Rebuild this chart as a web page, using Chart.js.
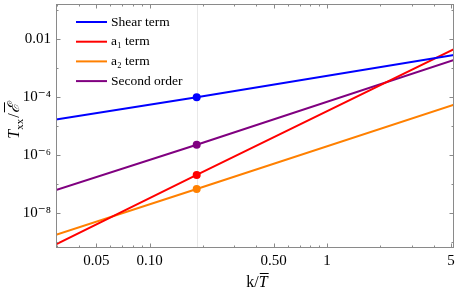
<!DOCTYPE html>
<html>
<head>
<meta charset="utf-8">
<script src="https://cdn.jsdelivr.net/npm/chart.js@4.4.1/dist/chart.umd.min.js"></script>
<style>
  html, body { margin: 0; padding: 0; background: #fff; }
  #wrap { width: 457px; height: 293px; position: relative; }
</style>
</head>
<body>
<div id="wrap"><canvas id="grafico"></canvas></div>
<script>
// --- DADOS ---
const kPontos = [0.0296, 0.184, 5.2];
const shearTerm = [1.7e-5, 1.0e-4, 2.9e-3];
const a1Term = [8.5e-10, 2.1e-7, 4.6e-3];
const a2Term = [1.8e-9, 6.9e-8, 5.6e-5];
const secondOrder = [6.3e-8, 2.3e-6, 1.95e-3];
const nomesSeries = ['Shear term', 'a\u2081 term', 'a\u2082 term', 'Second order'];
const coresSeries = ['#0000ff', '#ff0000', '#ff8000', '#800080'];
const kMarcado = 0.184;

const xTicks = [0.03, 0.04, 0.05, 0.06, 0.07, 0.08, 0.09, 0.1, 0.2, 0.3, 0.4, 0.5, 0.6, 0.7, 0.8, 0.9, 1, 2, 3, 4, 5];
const xTickLabels = { 0.05: '0.05', 0.1: '0.10', 0.5: '0.50', 1: '1', 5: '5' };
const yTicks = [1e-9, 1e-8, 1e-7, 1e-6, 1e-5, 1e-4, 1e-3, 1e-2, 1e-1];
const yTickLabels = { 1e-2: '0.01', 1e-4: '10\u207B\u2074', 1e-6: '10\u207B\u2076', 1e-8: '10\u207B\u2078' };

const SERIF = "'Liberation Serif', 'DejaVu Serif', serif";
const CINZA = '#8a8a8a';

function montarPontos(valores) {
    return kPontos.map((k, i) => ({ x: k, y: valores[i] }));
}

const todasSeries = [shearTerm, a1Term, a2Term, secondOrder];
const datasets = todasSeries.map((valores, i) => ({
    label: nomesSeries[i],
    data: montarPontos(valores),
    showLine: true,
    borderColor: coresSeries[i],
    backgroundColor: coresSeries[i],
    borderWidth: 2,
    pointRadius: kPontos.map(k => k === kMarcado ? 3 : 0),
    pointHoverRadius: 0,
    tension: 0
}));

// --- MOLDURA, TICKS, LEGENDA E TITULOS ---
const molduraPlugin = {
    id: 'moldura',
    beforeDatasetsDraw(chart) {
        const { ctx, chartArea: a, scales } = chart;
        const px = scales.x.getPixelForValue(kMarcado);
        ctx.save();
        ctx.strokeStyle = '#e8e8e8';
        ctx.lineWidth = 1;
        ctx.beginPath();
        ctx.moveTo(Math.round(px) + 0.5, a.top);
        ctx.lineTo(Math.round(px) + 0.5, a.bottom);
        ctx.stroke();
        ctx.restore();
    },
    afterDatasetsDraw(chart) {
        const { ctx, chartArea: a, scales } = chart;
        ctx.save();
        ctx.strokeStyle = CINZA;
        ctx.lineWidth = 1;
        ctx.strokeRect(Math.round(a.left) + 0.5, Math.round(a.top) + 0.5,
            Math.round(a.right - a.left) - 1, Math.round(a.bottom - a.top) - 1);

        ctx.beginPath();
        xTicks.forEach(v => {
            const p = Math.round(scales.x.getPixelForValue(v)) + 0.5;
            if (p < a.left || p > a.right) return;
            const len = xTickLabels[v] ? 4.5 : 2.5;
            ctx.moveTo(p, a.bottom); ctx.lineTo(p, a.bottom - len);
            ctx.moveTo(p, a.top); ctx.lineTo(p, a.top + len);
        });
        yTicks.forEach(v => {
            const p = Math.round(scales.y.getPixelForValue(v)) + 0.5;
            if (p < a.top || p > a.bottom) return;
            const len = yTickLabels[v] ? 4.5 : 2.5;
            ctx.moveTo(a.left, p); ctx.lineTo(a.left + len, p);
            ctx.moveTo(a.right, p); ctx.lineTo(a.right - len, p);
        });
        ctx.stroke();

        // legenda
        ctx.font = '13.5px ' + SERIF;
        ctx.textBaseline = 'middle';
        ctx.fillStyle = '#000';
        chart.data.datasets.forEach((ds, i) => {
            const y = 22 + i * 19.7;
            ctx.strokeStyle = ds.borderColor;
            ctx.lineWidth = 2;
            ctx.beginPath();
            ctx.moveTo(76, y); ctx.lineTo(107, y);
            ctx.stroke();
            ctx.fillText(ds.label, 111, y);
        });
        ctx.restore();
    },
    afterDraw(chart) {
        const { ctx } = chart;
        ctx.save();
        ctx.fillStyle = '#000';
        ctx.strokeStyle = '#000';
        ctx.textBaseline = 'alphabetic';

        // titulo eixo y: T_xx / E (com barra)
        ctx.translate(19, 121);
        ctx.rotate(-Math.PI / 2);
        const fT = 'italic 16px ' + SERIF, fSub = '11px ' + SERIF, fN = '16px ' + SERIF;
        const fE = "italic 16px 'DejaVu Serif', serif";
        ctx.font = fT; const wT = ctx.measureText('T').width;
        ctx.font = fSub; const wS = ctx.measureText('xx').width;
        ctx.font = fN; const wB = ctx.measureText('/').width;
        ctx.font = fE; const wE = ctx.measureText('\u2130').width;
        let x = -(wT + wS + wB + wE + 1) / 2;
        ctx.font = fT; ctx.fillText('T', x, 0); x += wT;
        ctx.font = fSub; ctx.fillText('xx', x, 4); x += wS + 1;
        ctx.font = fN; ctx.fillText('/', x, 0); x += wB;
        ctx.font = fE; ctx.fillText('\u2130', x, 0);
        ctx.lineWidth = 1;
        ctx.beginPath(); ctx.moveTo(x + 1, -14.5); ctx.lineTo(x + wE + 1, -14.5); ctx.stroke();
        ctx.restore();

        // titulo eixo x: k / T (com barra)
        ctx.save();
        ctx.fillStyle = '#000';
        ctx.strokeStyle = '#000';
        ctx.font = fN; const wk = ctx.measureText('k/').width;
        ctx.font = fT; const wT2 = ctx.measureText('T').width;
        let x2 = 257 - (wk + wT2) / 2;
        const base = 287;
        ctx.font = fN; ctx.fillText('k/', x2, base); x2 += wk;
        ctx.font = fT; ctx.fillText('T', x2, base);
        ctx.lineWidth = 1;
        ctx.beginPath(); ctx.moveTo(x2 + 1, base - 13.5); ctx.lineTo(x2 + wT2 + 1, base - 13.5); ctx.stroke();
        ctx.restore();
    }
};

const ctx = document.getElementById('grafico').getContext('2d');
const meuGrafico = new Chart(ctx, {
    type: 'scatter',
    data: { datasets: datasets },
    options: {
        responsive: true,
        maintainAspectRatio: false,
        animation: false,
        events: [],
        layout: { padding: { top: 4, right: 3, left: 0, bottom: 0 } },
        plugins: {
            legend: { display: false },
            tooltip: { enabled: false }
        },
        scales: {
            x: {
                type: 'logarithmic',
                min: 0.0296,
                max: 5.2,
                grid: { display: false, drawTicks: false },
                border: { display: false },
                afterBuildTicks: (scale) => { scale.ticks = xTicks.map(v => ({ value: v })); },
                afterFit: (scale) => {
                    scale.height = 45;
                    scale.paddingLeft = 0;
                    scale.paddingRight = 0;
                },
                ticks: {
                    autoSkip: false,
                    maxRotation: 0,
                    padding: 4,
                    color: '#000',
                    font: { family: SERIF, size: 15 },
                    callback: (v) => xTickLabels[v] || ''
                }
            },
            y: {
                type: 'logarithmic',
                min: Math.pow(10, -9.197),
                max: Math.pow(10, -0.783),
                grid: { display: false, drawTicks: false },
                border: { display: false },
                afterBuildTicks: (scale) => { scale.ticks = yTicks.map(v => ({ value: v })); },
                afterFit: (scale) => {
                    scale.width = 56;
                    scale.paddingTop = 0;
                    scale.paddingBottom = 0;
                },
                ticks: {
                    autoSkip: false,
                    padding: 5,
                    color: '#000',
                    font: { family: SERIF, size: 15 },
                    callback: (v) => {
                        const chave = yTicks.find(t => Math.abs(Math.log10(t) - Math.log10(v)) < 1e-6);
                        return yTickLabels[chave] || '';
                    }
                }
            }
        }
    },
    plugins: [molduraPlugin]
});
</script>
</body>
</html>
